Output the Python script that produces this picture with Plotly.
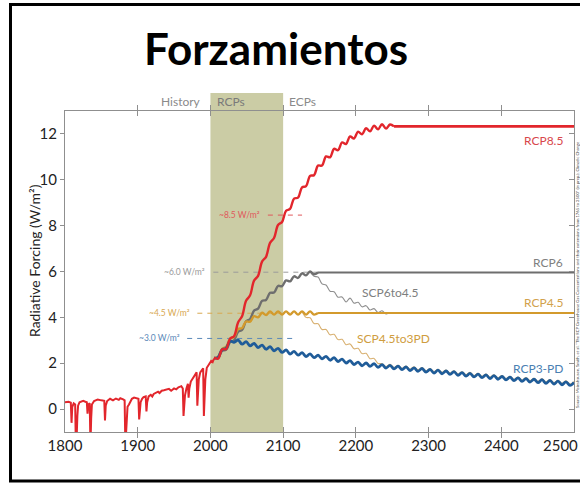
import plotly.graph_objects as go

# ---------------- data ----------------
hist = [(1800, 0.30), (1805, 0.32), (1808, 0.28), (1809, -0.6), (1810, 0.1), (1812, 0.25),
        (1814, 0.2), (1815, -1.8), (1816, -1.3), (1817, -0.3), (1818, 0.15), (1820, 0.3),
        (1825, 0.36), (1828, 0.32), (1830, 0.3), (1831, -0.2), (1832, 0.2), (1834, 0.25),
        (1835, -1.6), (1836, -0.4), (1837, 0.2), (1840, 0.35), (1845, 0.42), (1850, 0.38),
        (1854, 0.36), (1855, -0.5), (1856, 0.15), (1858, 0.35), (1862, 0.45), (1866, 0.38),
        (1870, 0.46), (1874, 0.4), (1876, 0.47), (1880, 0.42), (1882, 0.38), (1883, -1.6),
        (1884, -1.0), (1885, -0.2), (1886, 0.1), (1888, 0.2), (1890, 0.35), (1892, 0.45),
        (1895, 0.5), (1898, 0.46), (1901, 0.45), (1902, -0.45), (1903, 0.0), (1904, 0.3),
        (1906, 0.45), (1908, 0.52), (1911, 0.55), (1912, -0.1), (1913, 0.3), (1915, 0.55),
        (1918, 0.62), (1920, 0.55), (1922, 0.66), (1925, 0.7), (1928, 0.76), (1930, 0.7),
        (1933, 0.8), (1936, 0.82), (1940, 0.85), (1943, 0.88), (1946, 0.8), (1950, 0.9),
        (1953, 0.86), (1956, 0.95), (1960, 1.0), (1962, 0.9), (1963, -0.3), (1964, 0.2),
        (1965, 0.6), (1967, 0.9), (1969, 1.1), (1970, 0.5), (1971, 0.9), (1973, 1.2),
        (1975, 1.3), (1977, 1.4), (1979, 1.55), (1981, 1.6), (1982, 0.15), (1983, 0.7),
        (1984, 1.3), (1986, 1.6), (1988, 1.72), (1990, 1.78), (1991, -0.3), (1992, 0.5),
        (1993, 1.3), (1995, 1.8), (1997, 1.9), (1999, 2.0), (2001, 2.1), (2003, 2.05),
        (2005, 2.2)]

# sample years of the scenario curves (every half solar cycle)
grid = [2005 + 5.5 * i for i in range(91)]

rcp85 = [2.25, 2.20, 2.60, 2.62, 3.07, 3.18, 3.78, 4.05, 4.72, 4.96, 5.60, 5.81, 6.43, 6.64,
         7.25, 7.46, 8.03, 8.16, 8.65, 8.73, 9.18, 9.22, 9.67, 9.72, 10.17, 10.20, 10.62,
         10.62, 11.02, 10.98, 11.35, 11.29, 11.63, 11.56, 11.89, 11.80, 12.10, 11.98, 12.25,
         12.11, 12.36, 12.20, 12.42, 12.23, 12.41, 12.33]
rcp85_flat = 12.33

rcp6 = [2.22, 2.23, 2.54, 2.58, 2.92, 3.00, 3.37, 3.45, 3.83, 3.93, 4.29, 4.38, 4.72, 4.76,
        5.07, 5.08, 5.37, 5.36, 5.61, 5.57, 5.79, 5.72, 5.92, 5.83, 6.00, 5.88, 5.96]
rcp6_flat = 5.96

rcp45 = [2.22, 2.28, 2.62, 2.71, 3.07, 3.15, 3.49, 3.53, 3.82, 3.81, 4.05, 4.00, 4.20, 4.10,
         4.26, 4.12, 4.26, 4.12, 4.26, 4.12, 4.26, 4.12, 4.26, 4.12, 4.26, 4.12, 4.19]
rcp45_flat = 4.19

rcp3pd = [2.22, 2.26, 2.59, 2.65, 2.97, 2.91, 3.01, 2.83, 2.94, 2.76, 2.86, 2.68, 2.79, 2.61,
          2.72, 2.54, 2.65, 2.47, 2.58, 2.40, 2.52, 2.35, 2.46, 2.29, 2.41, 2.24, 2.35, 2.19,
          2.30, 2.13, 2.24, 2.07, 2.18, 2.01, 2.11, 1.94, 2.05, 1.89, 2.01, 1.86, 1.98, 1.82,
          1.94, 1.79, 1.91, 1.75, 1.87, 1.72, 1.84, 1.68, 1.80, 1.65, 1.77, 1.61, 1.73, 1.57,
          1.70, 1.54, 1.66, 1.51, 1.63, 1.47, 1.59, 1.44, 1.56, 1.40, 1.52, 1.37, 1.49, 1.33,
          1.46, 1.30, 1.42, 1.27, 1.39, 1.24, 1.36, 1.21, 1.33, 1.18, 1.30, 1.15, 1.28, 1.12,
          1.25, 1.09, 1.22, 1.06, 1.19, 1.03, 1.16]

scp6to45_start = 24
scp6to45 = [5.99, 5.79, 5.76, 5.46, 5.41, 5.14, 5.12, 4.88, 4.89, 4.67, 4.84, 4.62, 4.66,
            4.46, 4.51, 4.32, 4.38, 4.21, 4.29, 4.15, 4.21]

scp45to3_start = 22
scp45to3 = [4.26, 4.00, 3.98, 3.73, 3.72, 3.47, 3.47, 3.24, 3.26, 3.03, 3.04, 2.81, 2.84,
            2.63, 2.65, 2.42, 2.43, 2.20, 2.21, 1.99, 1.98, 1.85, 1.95, 1.81, 1.91, 1.78,
            1.88, 1.74, 1.84, 1.71, 1.81, 1.67, 1.77, 1.63, 1.74, 1.60, 1.70, 1.57, 1.67,
            1.53, 1.63, 1.50, 1.60, 1.46, 1.56, 1.43, 1.53, 1.39, 1.50, 1.36, 1.46, 1.33,
            1.43, 1.30, 1.40, 1.27, 1.37, 1.24, 1.34, 1.21, 1.32, 1.18, 1.29, 1.15, 1.26,
            1.12, 1.23, 1.09, 1.20]

ref_labels = ["~8.5 W/m²", "~6.0 W/m²", "~4.5 W/m²", "~3.0 W/m²"]
ref_levels = [8.46, 5.97, 4.18, 3.08]
ref_from = [2079, 2004, 1982, 1968]
ref_to = [2126, 2150, 2110, 2113]
ref_label_at = [2071, 1995, 1975, 1961]

x_ticks = [1800, 1900, 2000, 2100, 2200, 2300, 2400, 2500]
x_ticktext = ["1800", "1900", "2000", "2100", "2200", "2300", "2400", ""]
last_x_label = "2500"
y_ticks = [0, 2, 4, 6, 8, 10, 12]
period_labels = ["History", "RCPs", "ECPs"]
period_bounds = [2000, 2100]

# ---------------- styles ----------------
RED = "#e2262c"
GRAY = "#6e6e6e"
TAN = "#d39a2c"
BLUE = "#1f5c99"
FONT = "Lato"

W, H = 580, 483
L, R, T, B = 65, 6, 111, 51
PW, PH = W - L - R, H - T - B


def px_x(p):
    return (p - L) / PW


def px_y(p):
    return (H - B - p) / PH


fig = go.Figure()


def line(x, y, color, width, yaxis="y", shape="spline", dash=None):
    fig.add_trace(go.Scatter(x=x, y=y, mode="lines", yaxis=yaxis,
                             line=dict(color=color, width=width, shape=shape,
                                       smoothing=1.0 if shape == "spline" else None,
                                       dash=dash),
                             hoverinfo="skip", showlegend=False))


# dashed reference levels
ref_colors = ["#e0585c", "#9a9a9a", "#d8a850", "#5a88b8"]
for lv, a, b, c in zip(ref_levels, ref_from, ref_to, ref_colors):
    line([a, b], [lv, lv], c, 1, shape="linear", dash="5px,5px")

# thin extension scenarios
line(grid[scp45to3_start:scp45to3_start + len(scp45to3)], scp45to3, "#d8b070", 1.1)
line(grid[scp6to45_start:scp6to45_start + len(scp6to45)], scp6to45, "#8e8e8e", 1.1)

# flat extensions
line([grid[len(rcp6) - 1], 2500], [rcp6_flat, rcp6_flat], GRAY, 2, yaxis="y2", shape="linear")
line([grid[len(rcp45) - 1], 2500], [rcp45_flat, rcp45_flat], TAN, 2, shape="linear")
line([grid[len(rcp85) - 1], 2500], [rcp85_flat, rcp85_flat], RED, 2.6, shape="linear")

# main RCPs
line(grid[:len(rcp6)], rcp6, GRAY, 2.4)
line(grid[:len(rcp45)], rcp45, TAN, 2.4)
line(grid[:len(rcp3pd)], rcp3pd, BLUE, 2.8)
line(grid[:len(rcp85)], rcp85, RED, 2.4)

# history
hx = [p[0] for p in hist]
hy = [p[1] for p in hist]
line(hx, hy, RED, 2, shape="linear")

# ---------------- shapes ----------------
shapes = [
    dict(type="rect", xref="x", yref="paper", x0=period_bounds[0], x1=period_bounds[1],
         y0=0, y1=px_y(93), fillcolor="#cbcca5", line=dict(width=0), layer="below"),
    dict(type="rect", xref="paper", yref="paper", x0=px_x(10.5), x1=px_x(600),
         y0=px_y(481), y1=px_y(4.5), line=dict(color="black", width=3),
         fillcolor="rgba(0,0,0,0)"),
]

# ---------------- annotations ----------------
ann = []
ann.append(dict(text="Forzamientos", xref="paper", yref="paper", x=px_x(276), y=px_y(48),
                showarrow=False, font=dict(family=FONT, size=44, color="black", weight="bold"),
                xanchor="center", yanchor="middle"))
ann.append(dict(text="Radiative Forcing (W/m²)", xref="paper", yref="paper", x=px_x(34),
                y=px_y(261), textangle=-90, showarrow=False,
                font=dict(family=FONT, size=14, color="#222"), xanchor="center", yanchor="middle"))
# last x tick label, kept inside the page
ann.append(dict(text=last_x_label, xref="paper", yref="paper", x=px_x(579.5), y=px_y(445),
                xanchor="right", yanchor="middle", showarrow=False,
                font=dict(family=FONT, size=15, color="#222")))
# period header
ann.append(dict(text=period_labels[0], xref="x", yref="paper", x=1990, y=px_y(101),
                xanchor="right", yanchor="middle", showarrow=False,
                font=dict(family=FONT, size=12, color="#8a8a8a")))
ann.append(dict(text=period_labels[1], xref="x", yref="paper", x=2006, y=px_y(101),
                xanchor="left", yanchor="middle", showarrow=False,
                font=dict(family=FONT, size=12, color="#7a7a7a")))
ann.append(dict(text=period_labels[2], xref="x", yref="paper", x=2105, y=px_y(101),
                xanchor="left", yanchor="middle", showarrow=False,
                font=dict(family=FONT, size=12, color="#8a8a8a")))
# reference level labels
for t, lv, xa, c in zip(ref_labels, ref_levels, ref_label_at, ref_colors):
    ann.append(dict(text=t, x=xa, y=lv, xref="x", yref="y", xanchor="right", yanchor="middle",
                    showarrow=False, font=dict(family=FONT, size=8.5, color=c)))
# scenario labels
scen = [("RCP8.5", 2488, 11.73, "#d8474c", "right"),
        ("RCP6", 2488, 6.41, "#808080", "right"),
        ("RCP4.5", 2488, 4.63, "#d2a24c", "right"),
        ("RCP3-PD", 2488, 1.79, "#4a80b2", "right"),
        ("SCP6to4.5", 2247, 5.10, "#7e7e7e", "center"),
        ("SCP4.5to3PD", 2252, 3.06, "#cf9d40", "center")]
for t, xx, yy, c, anc in scen:
    ann.append(dict(text=t, x=xx, y=yy, xref="x", yref="y", xanchor=anc, yanchor="middle",
                    showarrow=False, font=dict(family=FONT, size=12, color=c)))
# source note
ann.append(dict(text="Source: Meinshausen, Smith, et al. \"The RCP Greenhouse Gas Concentrations and "
                     "their extensions from 1765 to 2500\" (in prep.), Climatic Change",
                xref="paper", yref="paper", x=px_x(577), y=px_y(275), textangle=-90,
                showarrow=False, font=dict(family=FONT, size=4.2, color="#444"),
                xanchor="center", yanchor="middle"))

axis_line = "#8f8f8f"
fig.update_layout(
    width=W, height=H, margin=dict(l=L, r=R, t=T, b=B, pad=0, autoexpand=False),
    paper_bgcolor="white", plot_bgcolor="rgba(0,0,0,0)",
    showlegend=False, shapes=shapes, annotations=ann,
    xaxis=dict(range=[1800, 2500], tickvals=x_ticks, ticktext=x_ticktext, ticks="inside",
               ticklen=5, tickcolor=axis_line, showline=True, linecolor=axis_line, linewidth=1,
               mirror="allticks", showgrid=False, zeroline=False, automargin=False,
               tickfont=dict(family=FONT, size=15, color="#222")),
    yaxis=dict(range=[-1, 13], tickvals=y_ticks, ticks="outside", ticklen=4,
               tickcolor=axis_line, showline=True, linecolor=axis_line, linewidth=1,
               mirror=True, showgrid=False, zeroline=False, automargin=False,
               tickfont=dict(family=FONT, size=15, color="#222")),
    yaxis2=dict(range=[-1, 13], tickvals=y_ticks, ticks="inside", ticklen=5,
                tickcolor=axis_line, overlaying="y", side="right", showticklabels=False,
                showline=False, showgrid=False, zeroline=False, automargin=False),
)

fig.write_html("out.html")
